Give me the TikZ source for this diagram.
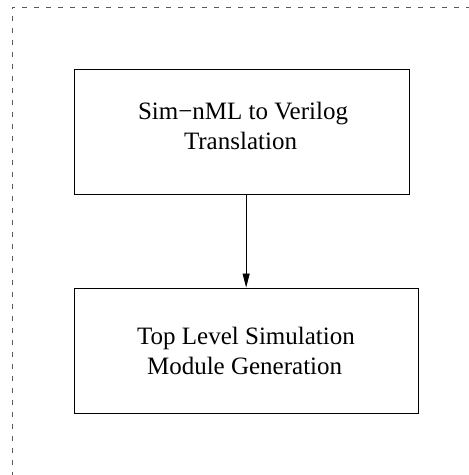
\documentclass[tikz,border=0pt]{standalone}
\usepackage{fontspec}
\setmainfont{Liberation Serif}
\usetikzlibrary{arrows.meta}
\tikzset{
  box/.style={draw=black, line width=0.9pt, rectangle, inner sep=0pt},
  txt/.style={anchor=base, inner sep=0pt, font=\fontsize{25}{30}\selectfont},
  frame/.style={draw=black!65, line width=0.9pt, dash pattern=on 5pt off 7pt},
  conn/.style={draw=black, line width=0.9pt, -{Triangle[length=14pt,width=7pt]}}
}
\begin{document}
\begin{tikzpicture}[x=1pt,y=1pt]
\useasboundingbox (0,0) rectangle (469,475);
\clip (0,0) rectangle (469,475);
% dashed frame (top and left visible)
\draw[frame] (12,-2) -- (12,468) -- (472,468);
% boxes
\node[box, minimum width=334.7pt, minimum height=124.6pt] (b1) at (241.65,343) {};
\node[box, minimum width=343.7pt, minimum height=125.3pt] (b2) at (246.15,124.35) {};
% texts
\node[txt] (t1a) at (243,355) {Sim−nML to Verilog};
\node[txt] (t1b) at (240.5,325) {Translation};
\node[txt] (t2a) at (246,130) {Top Level Simulation};
\node[txt] (t2b) at (244.6,100) {Module Generation};
% connector
\draw[conn] (b1.south -| b2.north) -- (b2.north);
\end{tikzpicture}
\end{document}
